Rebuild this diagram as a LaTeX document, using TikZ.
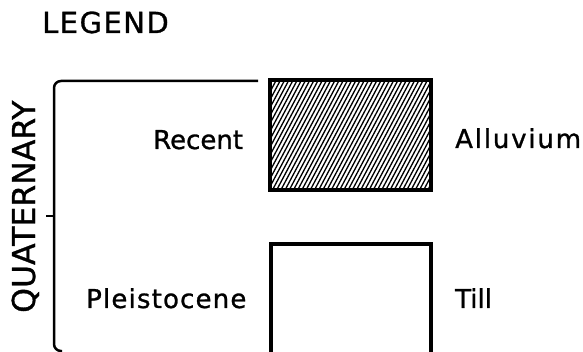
\documentclass[tikz,border=0pt]{standalone}
\usepackage{fontspec}
\setmainfont{DejaVu Sans}[FakeBold=1]
\newfontfamily\spacedA{DejaVu Sans}[LetterSpace=7,FakeBold=1]
\newfontfamily\spacedB{DejaVu Sans}[LetterSpace=4.5,FakeBold=1]
\newfontfamily\spacedC{DejaVu Sans}[LetterSpace=5,FakeBold=1]
\tikzset{
  lbl/.style={anchor=base west, inner sep=0pt, font=\fontsize{26}{26}\selectfont},
  legendbox/.style={draw, line width=4pt, minimum width=161pt, minimum height=110pt, inner sep=0pt, outer sep=0pt, anchor=north west},
  bracketline/.style={line width=2.5pt, rounded corners=7pt},
  hatchline/.style={line width=1.3pt}
}
\begin{document}
\begin{tikzpicture}[x=1pt,y=-1pt]
\useasboundingbox (0,0) rectangle (583,352);
% title
\node[anchor=base west, inner sep=0pt, font=\fontsize{29}{29}\selectfont\spacedC] (legend) at (42,33) {LEGEND};
% period label
\node[anchor=base west, inner sep=0pt, rotate=90, font=\fontsize{31.5}{31.5}\selectfont] (quat) at (35,313) {QUATERNARY};
% bracket
\coordinate (btop) at (258,81);
\coordinate (bnw) at (54,81);
\coordinate (bsw) at (54,351);
\coordinate (bend) at (62,351);
\coordinate (tickL) at (46,216);
\coordinate (tickR) at (54,216);
\draw[bracketline] (btop) -- (bnw) -- (bsw) -- (bend);
\draw[line width=2.5pt] (tickL) -- (tickR);
% hatched box
\node[legendbox] (alluv) at (270,80) {};
\begin{scope}
\clip (alluv.north west) rectangle (alluv.south east);
\foreach \s in {-70,-65.8,...,175} {
  \draw[hatchline] (270+\s,192) -- (330.6+\s,78);
}
\end{scope}
\draw[line width=4pt] (alluv.north west) rectangle (alluv.south east);
% empty box (runs off the bottom)
\coordinate (tillnw) at (271,244);
\coordinate (tillne) at (431,244);
\coordinate (tillsw) at (271,358);
\coordinate (tillse) at (431,358);
\draw[line width=4pt, line join=miter] (tillsw) -- (tillnw) -- (tillne) -- (tillse);
% labels
\node[lbl] (recent) at (153,149) {Recent};
\node[lbl, font=\fontsize{26}{26}\selectfont\spacedA] (alluvium) at (455,148) {Alluvium};
\node[lbl, font=\fontsize{26}{26}\selectfont\spacedB] (pleist) at (86,308) {Pleistocene};
\node[lbl] (till) at (455,308) {Till};
\end{tikzpicture}
\end{document}
